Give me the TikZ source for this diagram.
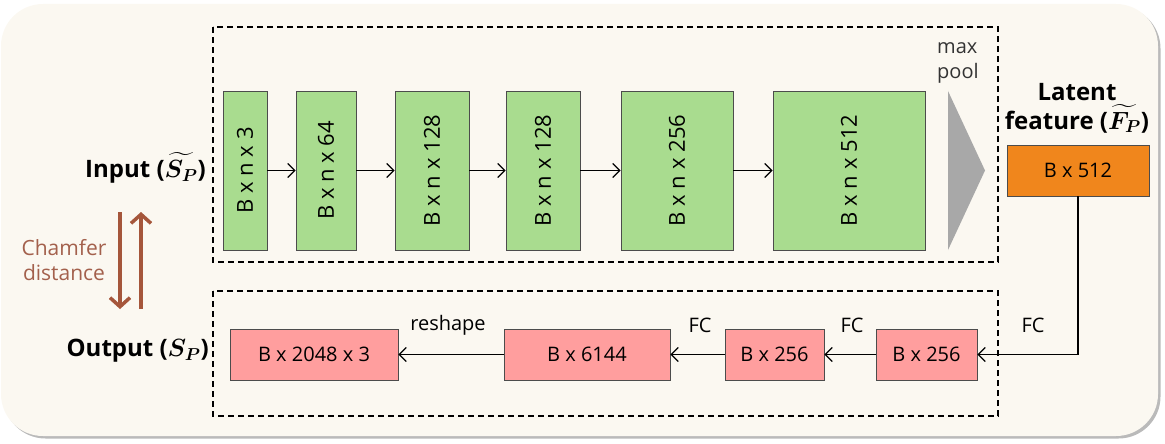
\documentclass[tikz,border=0pt]{standalone}
\usepackage{amsmath,amssymb,bm}
\usepackage{fontspec}
\setmainfont{Open Sans}
\usetikzlibrary{arrows.meta,shadows}
\definecolor{bgc}{HTML}{FBF8F1}
\definecolor{gfill}{HTML}{A9DC8F}
\definecolor{pfill}{HTML}{FF9E9E}
\definecolor{ofill}{HTML}{F0861C}
\definecolor{brn}{HTML}{A5563B}
\definecolor{brntxt}{HTML}{A3604C}
\definecolor{tri}{HTML}{A8A8A8}
\tikzset{
  x=1pt,y=-1pt,
  txt/.style={font=\fontsize{20}{25}\selectfont},
  box/.style={draw=black!70, line width=0.9pt, inner sep=0pt, txt},
  gbox/.style={box, fill=gfill, minimum height=159pt, font=\fontsize{22}{26}\selectfont},
  pbox/.style={box, fill=pfill, minimum height=51pt},
  obox/.style={box, fill=ofill, minimum height=51pt, minimum width=142pt},
  arr/.style={line width=1.2pt, -{Straight Barb[length=7pt,width=14pt,line width=1.2pt]}},
  dbox/.style={draw=black, line width=1.2pt, dash pattern=on 6pt off 4pt},
  barr/.style={draw=brn, line width=4pt, -{Straight Barb[length=9pt,width=20pt,line width=3.5pt]}},
  lbl/.style={txt},
  blbl/.style={font=\fontsize{24}{29}\selectfont\bfseries},
}
\begin{document}
\begin{tikzpicture}
\useasboundingbox (0,0) rectangle (1165,444);
% background
\fill[bgc, rounded corners=42pt, drop shadow={shadow xshift=2.5pt, shadow yshift=-2.5pt, fill=black!45, opacity=0.6}] (1,4) rectangle (1158,436);
% dashed boxes
\draw[dbox] (213,27) rectangle (998,262);
\draw[dbox] (213,291) rectangle (998,416);
% green boxes
\node[gbox, minimum width=44pt]  (g1) at (245,170.5) {\rotatebox{90}{B x n x 3}};
\node[gbox, minimum width=60pt]  (g2) at (326,170.5) {\rotatebox{90}{B x n x 64}};
\node[gbox, minimum width=74pt]  (g3) at (432,170.5) {\rotatebox{90}{B x n x 128}};
\node[gbox, minimum width=74pt]  (g4) at (543,170.5) {\rotatebox{90}{B x n x 128}};
\node[gbox, minimum width=112pt] (g5) at (677,170.5) {\rotatebox{90}{B x n x 256}};
\node[gbox, minimum width=152pt] (g6) at (849,170.5) {\rotatebox{90}{B x n x 512}};
\draw[arr] (g1) -- (g2);
\draw[arr] (g2) -- (g3);
\draw[arr] (g3) -- (g4);
\draw[arr] (g4) -- (g5);
\draw[arr] (g5) -- (g6);
% max pool triangle
\fill[tri] (948,91) -- (985,170.5) -- (948,250) -- cycle;
\node[lbl, text=black!80, align=left, anchor=north west, inner sep=0pt] (mp) at (937,42.5) {max\\pool};
% latent
\node[blbl, align=center, inner sep=0pt] (lat) at (1077,108) {Latent\\feature ($\bm{\widetilde{F_P}}$)};
\node[obox] (o) at (1078,170.5) {B x 512};
% pink boxes
\node[pbox, minimum width=168pt] (p1) at (314,354.5) {B x 2048 x 3};
\node[pbox, minimum width=166pt] (p2) at (587,354.5) {B x 6144};
\node[pbox, minimum width=99pt]  (p3) at (774.5,354.5) {B x 256};
\node[pbox, minimum width=101pt] (p4) at (926.5,354.5) {B x 256};
\draw[arr] (o.south) |- (p4.east);
\draw[arr] (p4) -- (p3);
\draw[arr] (p3) -- (p2);
\draw[arr] (p2) -- (p1);
\node[lbl] (fc1) at (1033,325) {FC};
\node[lbl] (fc2) at (852,325) {FC};
\node[lbl] (fc3) at (700,325) {FC};
\node[lbl] (rs) at (448,325) {reshape};
% input / output
\node[blbl, anchor=east, inner sep=0pt] (in) at (206,168) {Input ($\bm{\widetilde{S_P}}$)};
\node[blbl, anchor=east, inner sep=0pt] (out) at (209,351) {Output ($\bm{S_P}$)};
% chamfer
\node[txt, font=\fontsize{21}{25}\selectfont, text=brntxt, align=center, inner sep=0pt] (ch) at (64,260) {Chamfer\\distance};
\coordinate (d1) at (120,212);
\coordinate (d2) at (120,309);
\coordinate (u1) at (141,309);
\coordinate (u2) at (141,212);
\draw[barr] (d1) -- (d2);
\draw[barr] (u1) -- (u2);
\end{tikzpicture}
\end{document}
